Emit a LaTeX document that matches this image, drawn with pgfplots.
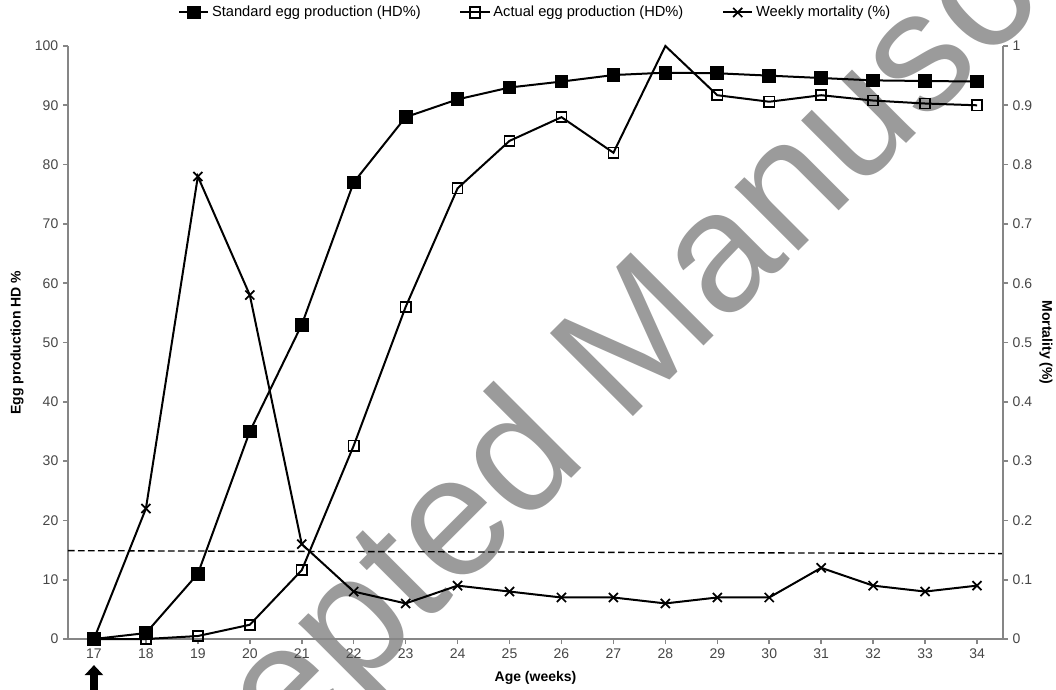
\documentclass[border=0pt]{standalone}
\usepackage{fontspec}
\setmainfont{Liberation Sans}
\usepackage{pgfplots}
\pgfplotsset{compat=1.18}
\usetikzlibrary{arrows.meta}
\definecolor{axgray}{RGB}{134,134,134}
\definecolor{txtgray}{RGB}{70,70,70}
\definecolor{wmgray}{RGB}{155,155,155}

\pgfplotsset{
  base/.style={
    scale only axis, width=701.25pt, height=444.75pt,
    at={(0,0)}, anchor=south west,
    xmin=16.5, xmax=34.5,
    axis line style={axgray, line width=1.5pt},
    tick style={axgray, line width=1.2pt},
    tick align=outside,
    major tick length=3.75pt,
    ticklabel style={font=\fontsize{10.5}{12}\selectfont, text=txtgray},
    /pgf/number format/assume math mode=true,
    label style={font=\bfseries\fontsize{10.5}{12}\selectfont},
    clip=false,
  },
}

\begin{document}
\begin{tikzpicture}
\useasboundingbox (-51pt,-37.5pt) rectangle (741pt,479.25pt);
% watermark, behind everything
\node[rotate=45, text=wmgray, font=\fontsize{128}{128}\selectfont, anchor=base, inner sep=0pt] at (436.5pt,179.25pt) {Accepted Manuscript};

\begin{axis}[base,
  axis x line*=bottom, axis y line*=left,
  ymin=0, ymax=100, ytick={0,10,...,100},
  xtick={17,...,34},
  xlabel={Age (weeks)}, ylabel={Egg production HD \%},
  xlabel style={at={(axis description cs:0.5,-0.0658)}, anchor=center},
  ylabel style={at={(axis description cs:-0.0545,0.5)}, anchor=center},
]
\addplot[black, line width=1pt, dash pattern=on 5pt off 2.5pt] coordinates {(16.5,14.9) (34.5,14.4)};
% standard egg production
\addplot[black, line width=1.5pt, mark=square*, mark size=4.4pt] coordinates {
(17,0) (18,1) (19,11) (20,35) (21,53) (22,77) (23,88) (24,91) (25,93)
(26,94) (27,95.1) (28,95.5) (29,95.4) (30,95) (31,94.6) (32,94.2) (33,94.1) (34,94)};
% actual egg production (no marker at week 28)
\addplot[black, line width=1.5pt] coordinates {
(17,0) (18,0) (19,0.5) (20,2.4) (21,11.6) (22,32.6) (23,56) (24,76) (25,84)
(26,88) (27,82) (28,100) (29,91.7) (30,90.6) (31,91.7) (32,90.8) (33,90.3) (34,90)};
\addplot[black, only marks, mark=square, mark size=3.8pt, mark options={line width=1.2pt}] coordinates {
(17,0) (18,0) (19,0.5) (20,2.4) (21,11.6) (22,32.6) (23,56) (24,76) (25,84)
(26,88) (27,82) (29,91.7) (30,90.6) (31,91.7) (32,90.8) (33,90.3) (34,90)};
\draw[black, line width=6pt, -{Triangle[width=13.5pt,length=7.5pt]}] (axis cs:17,-8.6) -- (axis cs:17,-4.4);
\end{axis}

\begin{axis}[base,
  axis x line=none, axis y line*=right,
  ymin=0, ymax=1, ytick={0,0.1,0.2,0.3,0.4,0.5,0.6,0.7,0.8,0.9,1},
  yticklabel style={/pgf/number format/fixed, /pgf/number format/precision=1},
  ylabel={Mortality (\%)},
  ylabel style={at={(axis description cs:1.046,0.5)}, anchor=center, rotate=180},
  legend style={at={(axis description cs:0.5,1.0565)}, anchor=center, draw=none, fill=none,
    legend columns=3, font=\fontsize{11}{13}\selectfont,
    /tikz/every even column/.append style={column sep=27pt}},
  legend image code/.code={\draw[mark repeat=2, mark phase=2, #1] plot coordinates {(0pt,0pt) (11pt,0pt) (22pt,0pt)};},
]
\addlegendimage{black, line width=1.5pt, mark=square*, mark size=4.4pt}
\addlegendimage{black, line width=1.5pt, mark=square, mark size=3.8pt}
\addplot[black, line width=1.5pt, mark=x, mark size=4.8pt, mark options={line width=1.3pt}] coordinates {
(17,0) (18,0.22) (19,0.78) (20,0.58) (21,0.16) (22,0.08) (23,0.06) (24,0.09) (25,0.08)
(26,0.07) (27,0.07) (28,0.06) (29,0.07) (30,0.07) (31,0.12) (32,0.09) (33,0.08) (34,0.09)};
\legend{Standard egg production (HD\%), Actual egg production (HD\%), Weekly mortality (\%)}
\end{axis}
\end{tikzpicture}
\end{document}
